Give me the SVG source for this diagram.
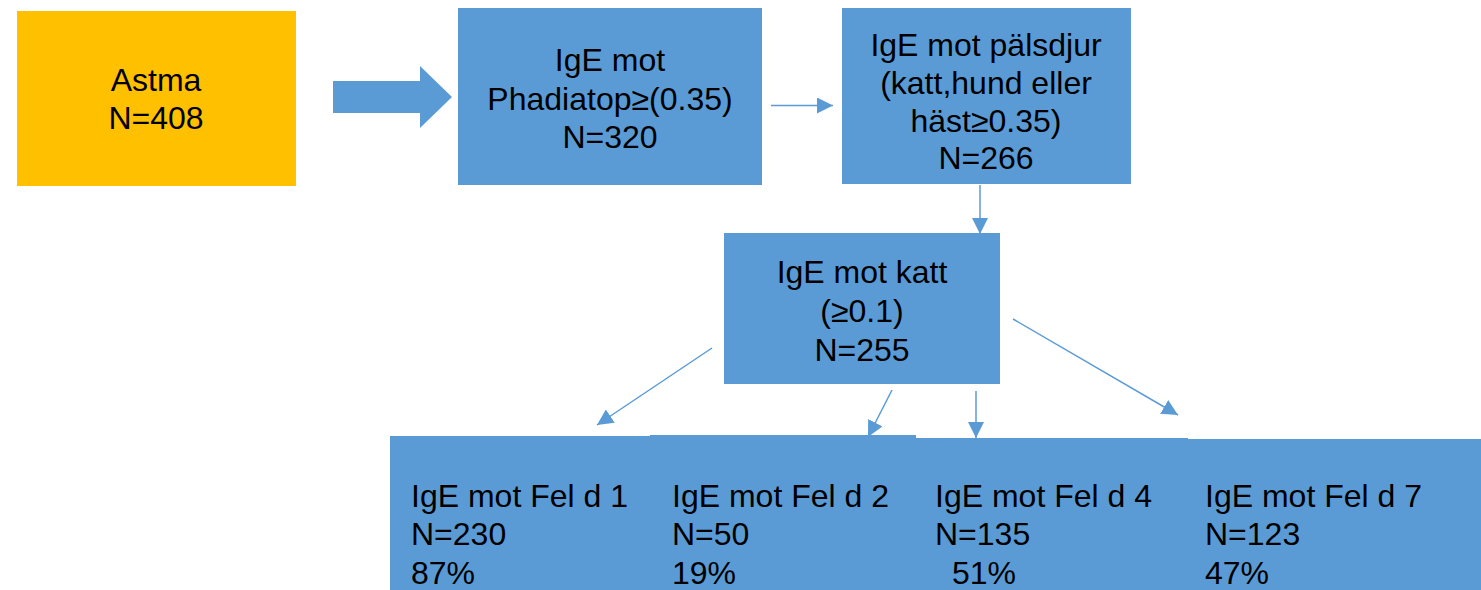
<svg xmlns="http://www.w3.org/2000/svg" width="1481" height="590" viewBox="0 0 1481 590">
<defs>
<style>
.box{fill:#5B9BD5;}
.t{font-family:"Liberation Sans",Arial,sans-serif;font-size:32px;fill:#000;}
.c{text-anchor:middle;}
.ln{stroke:#5B9BD5;stroke-width:1.5;fill:none;marker-end:url(#ah2);}
</style>
<marker id="ah2" viewBox="0 0 16 16" refX="16" refY="8" markerWidth="16" markerHeight="16" markerUnits="userSpaceOnUse" orient="auto">
<path d="M0,0 L16,8 L0,16 Z" fill="#5B9BD5"/>
</marker>
</defs>
<g id="astma">
<rect x="17" y="11" width="279" height="175" fill="#FFC000"/>
<text class="t c" x="156" y="91">Astma</text>
<text class="t c" x="156" y="129">N=408</text>
</g>
<g id="phadiatop">
<rect class="box" x="458" y="8" width="304" height="177"/>
<text class="t c" x="610" y="71">IgE mot</text>
<text class="t c" x="610" y="110">Phadiatop≥(0.35)</text>
<text class="t c" x="610" y="148">N=320</text>
</g>
<g id="palsdjur">
<rect class="box" x="842" y="8" width="289" height="176"/>
<text class="t c" x="986" y="56">IgE mot pälsdjur</text>
<text class="t c" x="986" y="94">(katt,hund eller</text>
<text class="t c" x="986" y="132">häst≥0.35)</text>
<text class="t c" x="986" y="169">N=266</text>
</g>
<g id="katt">
<rect class="box" x="724" y="233" width="276" height="151"/>
<text class="t c" x="862" y="283">IgE mot katt</text>
<text class="t c" x="862" y="322">(≥0.1)</text>
<text class="t c" x="862" y="361">N=255</text>
</g>
<g id="feld1">
<rect class="box" x="390" y="436" width="261" height="154"/>
<text class="t" x="411" y="507">IgE mot Fel d 1</text>
<text class="t" x="411" y="545">N=230</text>
<text class="t" x="411" y="584">87%</text>
</g>
<g id="feld2">
<rect class="box" x="650" y="435" width="266" height="155"/>
<text class="t" x="672" y="507">IgE mot Fel d 2</text>
<text class="t" x="672" y="545">N=50</text>
<text class="t" x="672" y="584">19%</text>
</g>
<g id="feld4">
<rect class="box" x="915" y="438" width="273" height="152"/>
<text class="t" x="935" y="507">IgE mot Fel d 4</text>
<text class="t" x="935" y="545">N=135</text>
<text class="t" x="952" y="584">51%</text>
</g>
<g id="feld7">
<rect class="box" x="1187" y="439" width="294" height="151"/>
<text class="t" x="1205" y="507">IgE mot Fel d 7</text>
<text class="t" x="1205" y="545">N=123</text>
<text class="t" x="1205" y="584">47%</text>
</g>
<g id="connectors">
<path d="M333,81 H420 V66 L452,97 L420,128 V113 H333 Z" fill="#5B9BD5"/>
<path class="ln" d="M771,105.5 H833"/>
<path class="ln" d="M980,185 V234"/>
<path class="ln" d="M712,348 L597,425"/>
<path class="ln" d="M892,390 L868,437"/>
<path class="ln" d="M976,391 V438"/>
<path class="ln" d="M1013,319 L1178,415"/>
</g>
</svg>
